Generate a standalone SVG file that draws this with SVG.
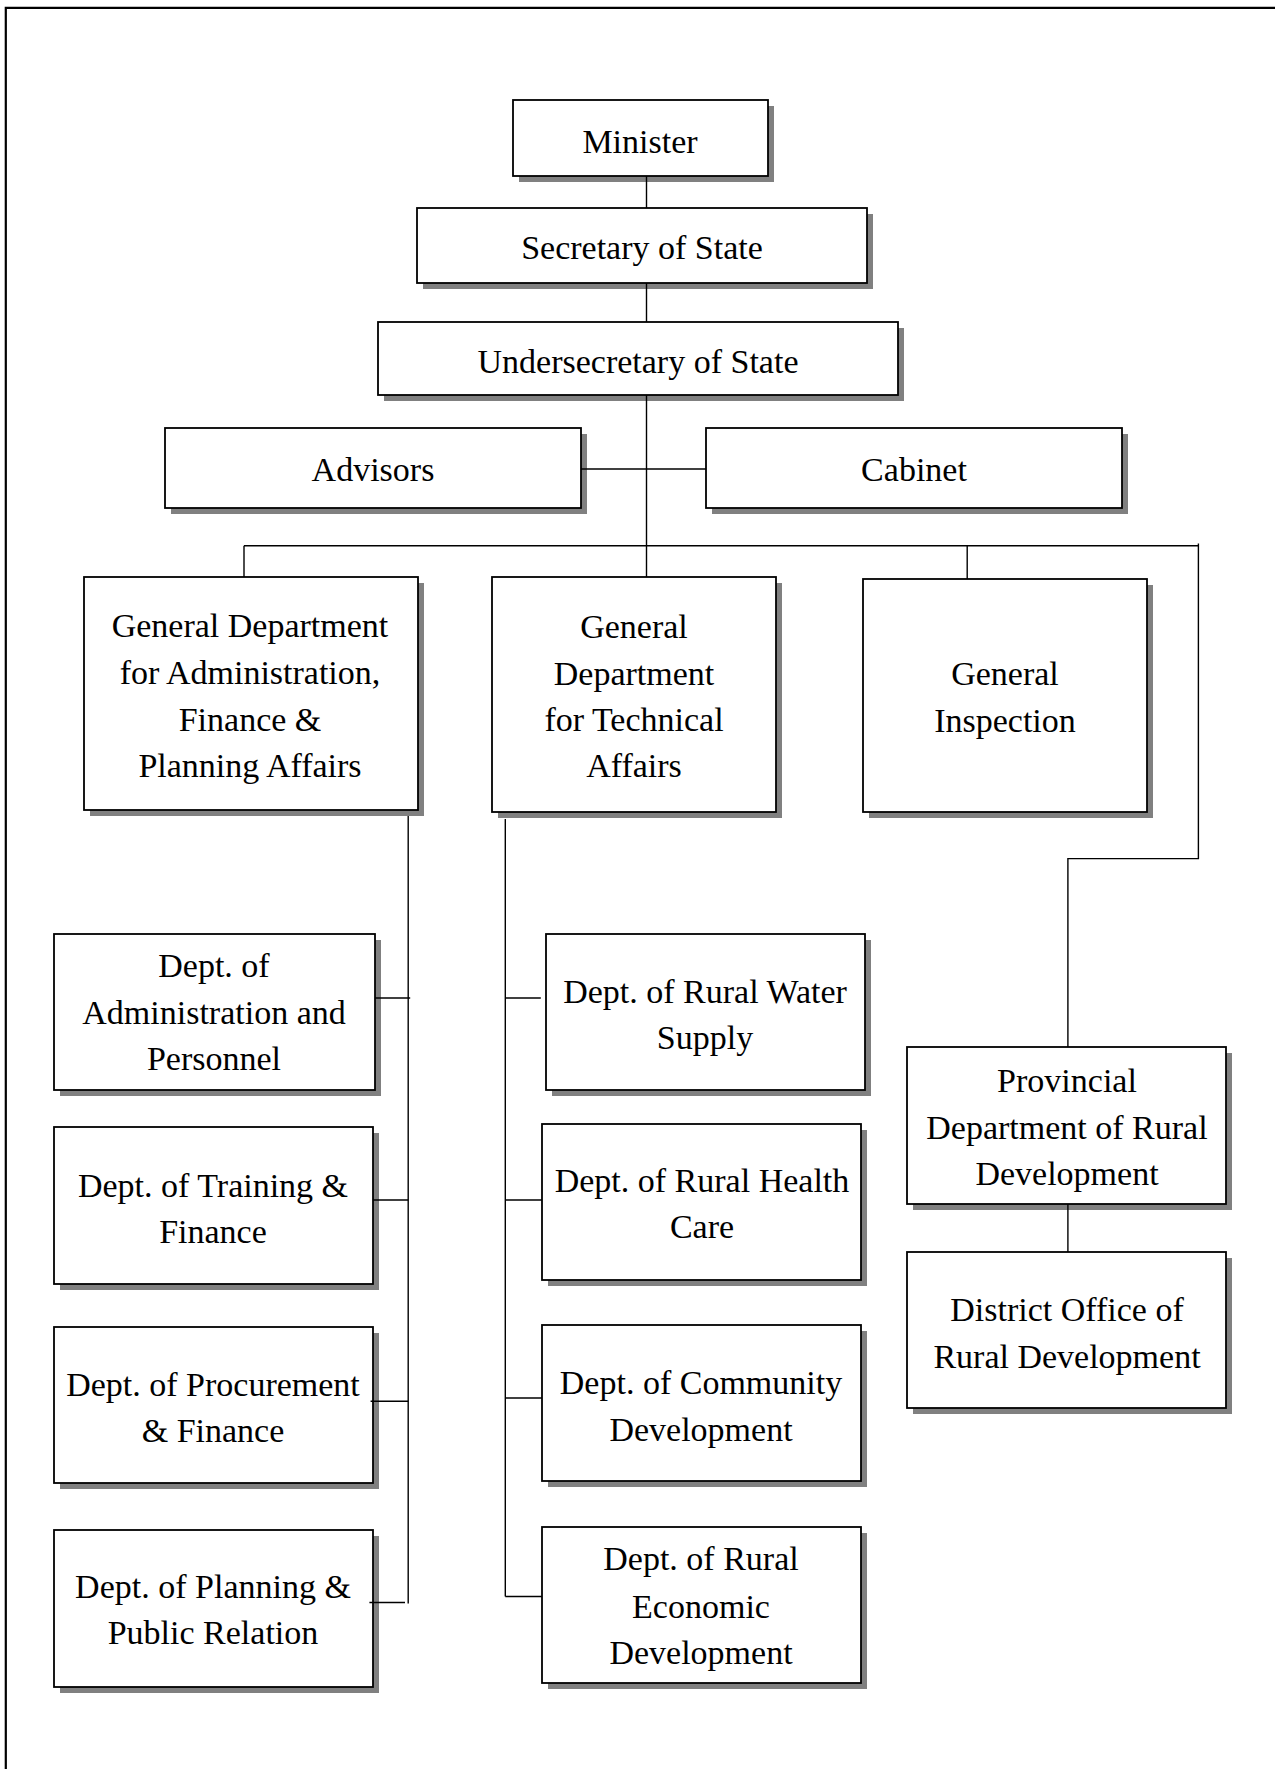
<svg xmlns="http://www.w3.org/2000/svg" width="1275" height="1769" viewBox="0 0 1275 1769">
<style>
.sh{fill:#808080;}
.bx{fill:#fff;stroke:#000;stroke-width:1.8;}
.t{font-family:"Liberation Serif","Times New Roman",serif;font-size:34px;fill:#000;text-anchor:middle;}
.c{stroke:#000;stroke-width:1.4;fill:none;}
.fr{stroke:#000;stroke-width:2.2;fill:none;}
</style>
<rect x="0" y="0" width="1275" height="1769" fill="#fff"/>
<path class="fr" d="M5.8,1769 V7.8 H1275"/>

<g id="minister"><rect class="sh" x="519" y="106" width="255" height="76"/><rect class="bx" x="513" y="100" width="255" height="76"/><text class="t" x="640" y="153">Minister</text></g>
<g id="secretary"><rect class="sh" x="423" y="214" width="450" height="75"/><rect class="bx" x="417" y="208" width="450" height="75"/><text class="t" x="642" y="259">Secretary of State</text></g>
<g id="undersecretary"><rect class="sh" x="384" y="328" width="520" height="73"/><rect class="bx" x="378" y="322" width="520" height="73"/><text class="t" x="638" y="373">Undersecretary of State</text></g>
<g id="advisors"><rect class="sh" x="171" y="434" width="416" height="80"/><rect class="bx" x="165" y="428" width="416" height="80"/><text class="t" x="373" y="481">Advisors</text></g>
<g id="cabinet"><rect class="sh" x="712" y="434" width="416" height="80"/><rect class="bx" x="706" y="428" width="416" height="80"/><text class="t" x="914" y="481">Cabinet</text></g>

<g id="gd-admin"><rect class="sh" x="90" y="583" width="334" height="233"/><rect class="bx" x="84" y="577" width="334" height="233"/>
<text class="t" x="250" y="637">General Department</text><text class="t" x="250" y="684">for Administration,</text><text class="t" x="250" y="731">Finance &amp;</text><text class="t" x="250" y="777">Planning Affairs</text></g>
<g id="gd-tech"><rect class="sh" x="498" y="583" width="284" height="235"/><rect class="bx" x="492" y="577" width="284" height="235"/>
<text class="t" x="634" y="638">General</text><text class="t" x="634" y="685">Department</text><text class="t" x="634" y="731">for Technical</text><text class="t" x="634" y="777">Affairs</text></g>
<g id="gen-inspection"><rect class="sh" x="869" y="585" width="284" height="233"/><rect class="bx" x="863" y="579" width="284" height="233"/>
<text class="t" x="1005" y="685">General</text><text class="t" x="1005" y="732">Inspection</text></g>

<g id="dept-admin"><rect class="sh" x="60" y="940" width="321" height="156"/><rect class="bx" x="54" y="934" width="321" height="156"/>
<text class="t" x="214" y="977">Dept. of</text><text class="t" x="214" y="1024">Administration and</text><text class="t" x="214" y="1070">Personnel</text></g>
<g id="dept-training"><rect class="sh" x="60" y="1133" width="319" height="157"/><rect class="bx" x="54" y="1127" width="319" height="157"/>
<text class="t" x="213" y="1197">Dept. of Training &amp;</text><text class="t" x="213" y="1243">Finance</text></g>
<g id="dept-procurement"><rect class="sh" x="60" y="1333" width="319" height="156"/><rect class="bx" x="54" y="1327" width="319" height="156"/>
<text class="t" x="213" y="1396">Dept. of Procurement</text><text class="t" x="213" y="1442">&amp; Finance</text></g>
<g id="dept-planning"><rect class="sh" x="60" y="1536" width="319" height="157"/><rect class="bx" x="54" y="1530" width="319" height="157"/>
<text class="t" x="213" y="1598">Dept. of Planning &amp;</text><text class="t" x="213" y="1644">Public Relation</text></g>

<g id="dept-water"><rect class="sh" x="552" y="940" width="319" height="156"/><rect class="bx" x="546" y="934" width="319" height="156"/>
<text class="t" x="705" y="1003">Dept. of Rural Water</text><text class="t" x="705" y="1049">Supply</text></g>
<g id="dept-health"><rect class="sh" x="548" y="1130" width="319" height="156"/><rect class="bx" x="542" y="1124" width="319" height="156"/>
<text class="t" x="702" y="1192">Dept. of Rural Health</text><text class="t" x="702" y="1238">Care</text></g>
<g id="dept-community"><rect class="sh" x="548" y="1331" width="319" height="156"/><rect class="bx" x="542" y="1325" width="319" height="156"/>
<text class="t" x="701" y="1394">Dept. of Community</text><text class="t" x="701" y="1441">Development</text></g>
<g id="dept-economic"><rect class="sh" x="548" y="1533" width="319" height="156"/><rect class="bx" x="542" y="1527" width="319" height="156"/>
<text class="t" x="701" y="1570">Dept. of Rural</text><text class="t" x="701" y="1618">Economic</text><text class="t" x="701" y="1664">Development</text></g>

<g id="provincial"><rect class="sh" x="913" y="1053" width="319" height="157"/><rect class="bx" x="907" y="1047" width="319" height="157"/>
<text class="t" x="1067" y="1092">Provincial</text><text class="t" x="1067" y="1139">Department of Rural</text><text class="t" x="1067" y="1185">Development</text></g>
<g id="district"><rect class="sh" x="913" y="1258" width="319" height="156"/><rect class="bx" x="907" y="1252" width="319" height="156"/>
<text class="t" x="1067" y="1321">District Office of</text><text class="t" x="1067" y="1368">Rural Development</text></g>

<g id="connectors">
<path class="c" d="M646.5,176 V208"/>
<path class="c" d="M646.5,283 V322"/>
<path class="c" d="M646.5,395 V577"/>
<path class="c" d="M581,469 H706"/>
<path class="c" d="M244,545.7 H1198.4"/>
<path class="c" d="M244,545.7 V577"/>
<path class="c" d="M967.2,545.7 V579"/>
<path class="c" d="M1198.4,543.5 V858.6 H1067.9 V1047"/>
<path class="c" d="M1067.9,1204 V1252"/>
<path class="c" d="M408.2,816 V1603.5"/>
<path class="c" d="M375,998 H410.2"/>
<path class="c" d="M373,1200 H408.2"/>
<path class="c" d="M370.6,1401.2 H408.2"/>
<path class="c" d="M369.4,1602.5 H405"/>
<path class="c" d="M505.3,819 V1596.5"/>
<path class="c" d="M505.3,998 H540.8"/>
<path class="c" d="M505.3,1200 H542"/>
<path class="c" d="M505.3,1398 H542"/>
<path class="c" d="M505.3,1596.5 H542"/>
</g>
</svg>
